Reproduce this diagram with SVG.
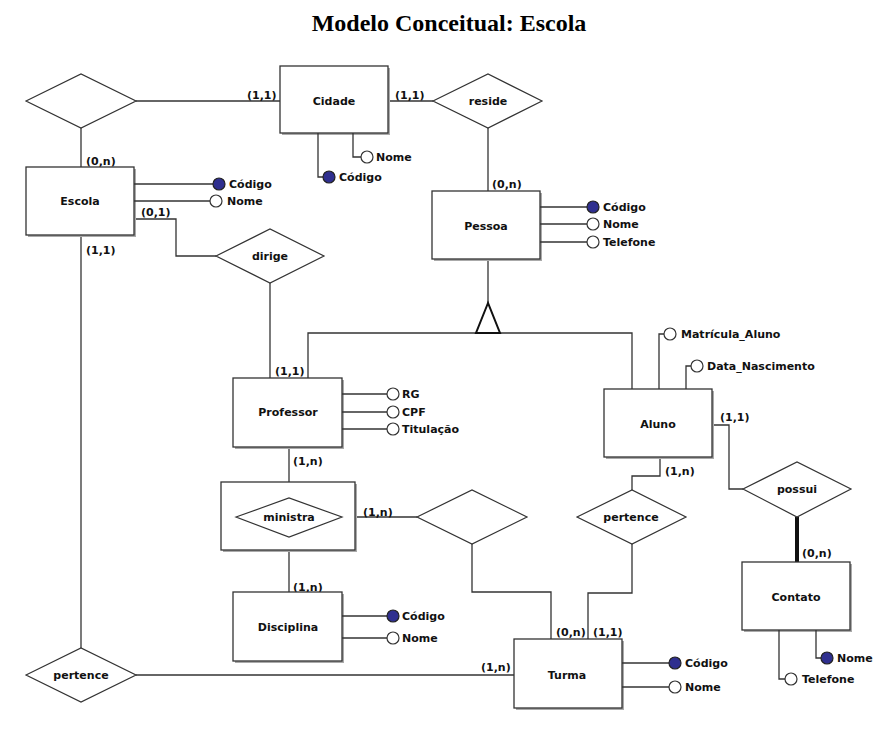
<svg xmlns="http://www.w3.org/2000/svg" width="887" height="732" viewBox="0 0 887 732">
<style>
.ent{fill:#fff;stroke:#333;stroke-width:1.3}
.sh{fill:#aaa}
.rel{fill:#fff;stroke:#333;stroke-width:1.2}
.ln{fill:none;stroke:#333;stroke-width:1.3}
.thick{fill:none;stroke:#111;stroke-width:4}
.ao{fill:#fff;stroke:#333;stroke-width:1.2}
.ak{fill:#2f2f8f;stroke:#222;stroke-width:1.2}
text{font-family:"DejaVu Sans","Verdana",sans-serif;font-weight:bold;font-size:11px;fill:#111}
.c{text-anchor:middle}
.title{font-family:"Liberation Serif","Times New Roman",serif;font-size:24px;fill:#000}
</style>
<rect width="887" height="732" fill="#fff"/>
<text class="title c" x="449" y="31">Modelo Conceitual: Escola</text>

<g id="connectors">
<path class="ln" d="M136,101 H280"/>
<path class="ln" d="M81,128 V167"/>
<path class="ln" d="M388,101 H433"/>
<path class="ln" d="M488,128 V191"/>
<path class="ln" d="M134,219 H176 V256 H216"/>
<path class="ln" d="M270,283 V378"/>
<path class="ln" d="M81,235 V648"/>
<path class="ln" d="M136,675 H514"/>
<path class="ln" d="M488,259 V303"/>
<path class="ln" d="M308,378 V333 H632 V389"/>
<path class="ln" d="M289,447 V498"/>
<path class="ln" d="M289,537 V592"/>
<path class="ln" d="M355,517 H417"/>
<path class="ln" d="M472,544 V592 H551 V639"/>
<path class="ln" d="M660,457 V476 H632 V490"/>
<path class="ln" d="M632,544 V593 H588 V639"/>
<path class="ln" d="M712,425 H729 V489 H743"/>
<path class="thick" d="M797,517 V562"/>
<path d="M488,303 L476,333 L500,333 Z" fill="#fff" stroke="#111" stroke-width="2"/>
<text x="247" y="99">(1,1)</text>
<text x="395" y="99">(1,1)</text>
<text x="86" y="165">(0,n)</text>
<text x="141" y="216">(0,1)</text>
<text x="86" y="254">(1,1)</text>
<text x="492" y="188">(0,n)</text>
<text x="275" y="375">(1,1)</text>
<text x="293" y="465">(1,n)</text>
<text x="293" y="591">(1,n)</text>
<text x="363" y="516">(1,n)</text>
<text x="556" y="636">(0,n)</text>
<text x="593" y="636">(1,1)</text>
<text x="481" y="671">(1,n)</text>
<text x="665" y="475">(1,n)</text>
<text x="720" y="421">(1,1)</text>
<text x="802" y="557">(0,n)</text>
</g>

<g id="rel-escola-cidade"><polygon class="rel" points="26,101 81,74 136,101 81,128"/></g>
<g id="rel-reside"><polygon class="rel" points="433,101 488,74 542,101 488,128"/><text class="c" x="488" y="105">reside</text></g>
<g id="rel-dirige"><polygon class="rel" points="216,256 270,229 324,256 270,283"/><text class="c" x="270" y="260">dirige</text></g>
<g id="agg-ministra">
<rect class="sh" x="223" y="484" width="134" height="68"/>
<rect class="ent" x="221" y="482" width="134" height="68"/>
<polygon class="rel" points="236,517 289,498 342,517 289,537"/>
<text class="c" x="289" y="521">ministra</text>
</g>
<g id="rel-ministra-turma"><polygon class="rel" points="417,517 472,490 527,517 472,544"/></g>
<g id="rel-pertence-aluno"><polygon class="rel" points="577,517 632,490 686,517 632,544"/><text class="c" x="631" y="521">pertence</text></g>
<g id="rel-possui"><polygon class="rel" points="743,489 797,462 851,489 797,517"/><text class="c" x="797" y="493">possui</text></g>
<g id="rel-pertence-escola"><polygon class="rel" points="26,675 81,648 136,675 81,702"/><text class="c" x="81" y="679">pertence</text></g>

<g id="ent-cidade">
<rect class="sh" x="282" y="68" width="108" height="67"/>
<rect class="ent" x="280" y="66" width="108" height="67"/>
<text class="c" x="334" y="105">Cidade</text>
<path class="ln" d="M318,133 V177 H323"/><circle class="ak" cx="329" cy="177" r="6"/><text x="339" y="181">Código</text>
<path class="ln" d="M353,133 V157 H361"/><circle class="ao" cx="367" cy="157" r="6"/><text x="376" y="161">Nome</text>
</g>

<g id="ent-escola">
<rect class="sh" x="28" y="169" width="108" height="68"/>
<rect class="ent" x="26" y="167" width="108" height="68"/>
<text class="c" x="80" y="205">Escola</text>
<path class="ln" d="M134,184 H213"/><circle class="ak" cx="219" cy="184" r="6"/><text x="229" y="188">Código</text>
<path class="ln" d="M134,201 H210"/><circle class="ao" cx="216" cy="201" r="6"/><text x="227" y="205">Nome</text>
</g>

<g id="ent-pessoa">
<rect class="sh" x="434" y="193" width="108" height="68"/>
<rect class="ent" x="432" y="191" width="108" height="68"/>
<text class="c" x="486" y="230">Pessoa</text>
<path class="ln" d="M540,207 H587"/><circle class="ak" cx="593" cy="207" r="6"/><text x="603" y="211">Código</text>
<path class="ln" d="M540,224 H587"/><circle class="ao" cx="593" cy="224" r="6"/><text x="603" y="228">Nome</text>
<path class="ln" d="M540,242 H587"/><circle class="ao" cx="593" cy="242" r="6"/><text x="603" y="246">Telefone</text>
</g>

<g id="ent-professor">
<rect class="sh" x="235" y="380" width="109" height="69"/>
<rect class="ent" x="233" y="378" width="109" height="69"/>
<text class="c" x="288" y="416">Professor</text>
<path class="ln" d="M342,394 H387"/><circle class="ao" cx="393" cy="394" r="6"/><text x="402" y="398">RG</text>
<path class="ln" d="M342,412 H387"/><circle class="ao" cx="393" cy="412" r="6"/><text x="402" y="416">CPF</text>
<path class="ln" d="M342,429 H387"/><circle class="ao" cx="393" cy="429" r="6"/><text x="402" y="433">Titulação</text>
</g>

<g id="ent-aluno">
<rect class="sh" x="606" y="391" width="108" height="68"/>
<rect class="ent" x="604" y="389" width="108" height="68"/>
<text class="c" x="658" y="428">Aluno</text>
<path class="ln" d="M659,389 V334 H664"/><circle class="ao" cx="670" cy="334" r="6"/><text x="681" y="338">Matrícula_Aluno</text>
<path class="ln" d="M686,389 V366 H691"/><circle class="ao" cx="697" cy="366" r="6"/><text x="707" y="370">Data_Nascimento</text>
</g>

<g id="ent-disciplina">
<rect class="sh" x="235" y="594" width="109" height="69"/>
<rect class="ent" x="233" y="592" width="109" height="69"/>
<text class="c" x="288" y="631">Disciplina</text>
<path class="ln" d="M342,616 H387"/><circle class="ak" cx="393" cy="616" r="6"/><text x="402" y="620">Código</text>
<path class="ln" d="M342,638 H387"/><circle class="ao" cx="393" cy="638" r="6"/><text x="402" y="642">Nome</text>
</g>

<g id="ent-turma">
<rect class="sh" x="516" y="641" width="108" height="69"/>
<rect class="ent" x="514" y="639" width="108" height="69"/>
<text class="c" x="567" y="679">Turma</text>
<path class="ln" d="M622,663 H669"/><circle class="ak" cx="675" cy="663" r="6"/><text x="685" y="667">Código</text>
<path class="ln" d="M622,687 H669"/><circle class="ao" cx="675" cy="687" r="6"/><text x="685" y="691">Nome</text>
</g>

<g id="ent-contato">
<rect class="sh" x="744" y="564" width="108" height="68"/>
<rect class="ent" x="742" y="562" width="108" height="68"/>
<text class="c" x="796" y="601">Contato</text>
<path class="ln" d="M779,630 V679 H785"/><circle class="ao" cx="791" cy="679" r="6"/><text x="802" y="683">Telefone</text>
<path class="ln" d="M816,630 V658 H821"/><circle class="ak" cx="827" cy="658" r="6"/><text x="837" y="662">Nome</text>
</g>
</svg>
